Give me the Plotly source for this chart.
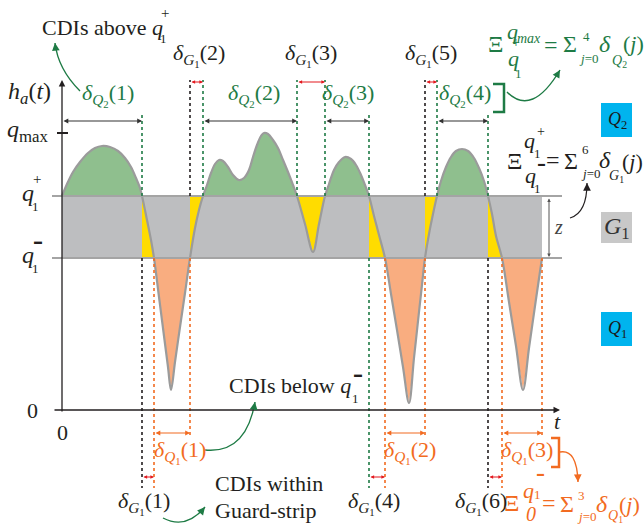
import numpy as np
import plotly.graph_objects as go

# Thresholds on the h_a(t) axis
Q_MINUS = 152
Q_PLUS = 214
Q_MAX = 277

# Sampled trajectory h_a(t)
t_curve = [0, 5, 11, 18, 26, 33, 40, 48, 56, 63, 69, 74, 78, 80,
           85, 89, 92, 97, 102, 106, 109, 113, 118, 123, 128, 133, 137, 141,
           145, 149, 153, 157, 161, 166, 171, 177, 182, 187, 191, 195, 199, 202, 206, 211, 216, 221, 226, 231, 235,
           243, 251, 257, 263,
           267, 272, 277, 283, 289, 294, 299, 303, 307,
           312, 317, 323, 329, 335, 341, 347, 352, 357, 360, 363, 367, 371, 375,
           379, 384, 389, 394, 400, 406, 412, 417, 422, 426,
           430, 434, 440, 447, 454, 461, 467, 474, 480]
h_curve = [214, 226, 238, 248, 257, 262, 264, 263, 259, 252, 243, 232, 222, 214,
           190, 170, 152, 113, 74, 43, 20, 48, 83, 117, 152, 182, 200, 214,
           225, 237, 246, 250, 249, 243, 235, 230, 232, 240, 253, 265, 274, 277, 276, 270, 262, 250, 238, 225, 214,
           186, 158, 186, 214,
           226, 240, 248, 253, 251, 245, 235, 225, 214,
           194, 175, 152, 116, 80, 43, 7, 52, 98, 125, 152, 176, 196, 214,
           229, 243, 253, 259, 261, 259, 252, 242, 229, 214,
           196, 174, 152, 108, 64, 20, 62, 111, 152]

# Time intervals (CDIs)
above_spans = [(0, 80), (141, 235), (263, 307), (375, 426)]
below_spans = [(92, 128), (323, 363), (440, 480)]
guard_top_spans = [(128, 141), (235, 263), (363, 375)]
guard_bottom_spans = [(80, 92), (307, 323), (426, 440)]
guard_spans = sorted(guard_top_spans + guard_bottom_spans)

above_labels = ["1", "2", "3", "4"]
below_labels = ["1", "2", "3"]
guard_top_labels = ["2", "3", "5"]
guard_bottom_labels = ["1", "4", "6"]

SERIF = "Liberation Serif, Times New Roman, serif"
BLACK = "#231f20"
GREEN = "#1e7b45"
ORANGE = "#f26b21"
RED = "#e3191f"
CYAN = "#00b4ee"
CURVE = "#9b9b9b"
FILL_GREEN = "#8fbf8e"
FILL_GRAY = "#bdbec0"
FILL_YELLOW = "#ffdc00"
FILL_ORANGE = "#f9ad80"
BAR = "▬"

t_arr = np.array(t_curve, dtype=float)
h_arr = np.array(h_curve, dtype=float)


def piece(a, b):
    m = (t_arr >= a) & (t_arr <= b)
    return list(t_arr[m]), list(h_arr[m])


fig = go.Figure()

# guard-strip fills between the curve and the crossing instant
for a, b in guard_spans:
    xs, ys = piece(a, b)
    xs = xs + [a]
    ys = ys + [ys[-1]]
    fig.add_trace(go.Scatter(x=xs, y=ys, mode="lines", fill="toself", fillcolor=FILL_YELLOW,
                             line=dict(width=0), hoverinfo="skip", showlegend=False))

for a, b in above_spans:
    xs, ys = piece(a, b)
    fig.add_trace(go.Scatter(x=xs, y=ys, mode="lines", fill="toself", fillcolor=FILL_GREEN,
                             line=dict(width=0, shape="spline"), hoverinfo="skip", showlegend=False))

for a, b in below_spans:
    xs, ys = piece(a, b)
    fig.add_trace(go.Scatter(x=xs, y=ys, mode="lines", fill="toself", fillcolor=FILL_ORANGE,
                             line=dict(width=0), hoverinfo="skip", showlegend=False))

fig.add_trace(go.Scatter(x=t_curve, y=h_curve, mode="lines",
                         line=dict(color=CURVE, width=2.2, shape="spline"),
                         hoverinfo="skip", showlegend=False))

shapes = []
annotations = []

# guard strip band
shapes.append(dict(type="rect", xref="x", yref="y", x0=0, x1=480, y0=Q_MINUS, y1=Q_PLUS,
                   fillcolor=FILL_GRAY, line=dict(width=0), layer="below"))
for q in (Q_PLUS, Q_MINUS):
    shapes.append(dict(type="line", xref="x", yref="y", x0=-10, x1=500, y0=q, y1=q,
                       line=dict(color="#a4a4a4", width=2)))
# q_max tick
shapes.append(dict(type="line", xref="x", yref="y", x0=-5, x1=6, y0=Q_MAX, y1=Q_MAX,
                   line=dict(color=BLACK, width=2)))


def vdot(t, y0, y1, color):
    shapes.append(dict(type="line", xref="x", yref="y", x0=t, x1=t, y0=y0, y1=y1,
                       line=dict(color=color, width=1.6, dash="dot")))


# dotted markers above q1+
for t, top, col in [(80, 295, GREEN), (128, 330, BLACK), (141, 330, GREEN), (235, 330, GREEN),
                    (263, 330, GREEN), (307, 295, GREEN), (363, 330, BLACK), (375, 330, GREEN),
                    (426, 295, GREEN)]:
    vdot(t, Q_PLUS, top, col)
# dotted markers below q1-
for t, bot, col in [(80, -78, BLACK), (92, -78, ORANGE), (128, -25, ORANGE), (307, -78, GREEN),
                    (323, -78, ORANGE), (363, -25, ORANGE), (426, -78, BLACK), (440, -78, ORANGE),
                    (480, -25, ORANGE)]:
    vdot(t, Q_MINUS, bot, col)


def dim_arrow(x0, x1, y, color, size=0.8, width=1.2):
    annotations.append(dict(x=x1, y=y, ax=x0, ay=y, xref="x", yref="y", axref="x", ayref="y",
                            text="", showarrow=True, arrowhead=2, startarrowhead=2,
                            arrowside="end+start", arrowsize=size, startarrowsize=size,
                            arrowwidth=width, arrowcolor=color))


for a, b in above_spans:
    dim_arrow(a, b, 289, "#333333")
for a, b in guard_top_spans:
    dim_arrow(a, b, 328, RED, size=0.6)
for a, b in below_spans:
    dim_arrow(a, b, -23, ORANGE)
for a, b in guard_bottom_spans:
    dim_arrow(a, b, -67, RED, size=0.6)

# z span
annotations.append(dict(x=487, y=Q_MINUS + 1, ax=487, ay=Q_PLUS - 1, xref="x", yref="y", axref="x",
                        ayref="y", text="", showarrow=True, arrowhead=2, startarrowhead=2,
                        arrowside="end+start", arrowsize=0.7, startarrowsize=0.7, arrowwidth=1,
                        arrowcolor="#555555"))

# axes
annotations.append(dict(x=0, y=330, ax=0, ay=-3, xref="x", yref="y", axref="x", ayref="y", text="",
                        showarrow=True, arrowhead=2, arrowsize=1, arrowwidth=1.3, arrowcolor=BLACK))
annotations.append(dict(x=498, y=0, ax=-9, ay=0, xref="x", yref="y", axref="x", ayref="y", text="",
                        showarrow=True, arrowhead=2, arrowsize=1, arrowwidth=1.3, arrowcolor=BLACK))


def curved(p0, c, p1, color, width=1.4):
    shapes.append(dict(type="path", xref="x", yref="y",
                       path=f"M {p0[0]},{p0[1]} Q {c[0]},{c[1]} {p1[0]},{p1[1]}",
                       line=dict(color=color, width=width)))
    dx, dy = p1[0] - c[0], p1[1] - c[1]
    n = (dx * dx + dy * dy) ** 0.5
    annotations.append(dict(x=p1[0], y=p1[1], ax=p1[0] - 4 * dx / n, ay=p1[1] - 4 * dy / n,
                            xref="x", yref="y", axref="x", ayref="y", text="", showarrow=True,
                            arrowhead=2, arrowsize=1.1, arrowwidth=1.4, arrowcolor=color))


curved((18, 319), (-4, 341), (-7, 367), GREEN)
curved((445, 318), (470, 293), (498, 340), GREEN)
curved((508, 192), (525, 197), (525, 227), BLACK, 1.2)
curved((143, -40), (184, -44), (193, 8), GREEN)
curved((101, -108), (124, -120), (143, -97), GREEN)
curved((498, -42), (515, -39), (516, -72), ORANGE)

# brackets
shapes.append(dict(type="path", xref="x", yref="y", path="M 431,326 L 442,326 L 442,298 L 431,298",
                   line=dict(color=GREEN, width=2.5)))
shapes.append(dict(type="path", xref="x", yref="y", path="M 489,-28 L 497,-28 L 497,-57 L 489,-57",
                   line=dict(color=ORANGE, width=2.5)))

# level boxes
for y0, y1, col in [(273, 307, CYAN), (167, 198, "#c8c8c8"), (64, 98, CYAN)]:
    shapes.append(dict(type="rect", xref="x", yref="y", x0=539, x1=570, y0=y0, y1=y1,
                       fillcolor=col, line=dict(width=0)))


def label(x, y, text, size=22, color=BLACK, xanchor="center", yanchor="middle"):
    annotations.append(dict(x=x, y=y, xref="x", yref="y", text=text, showarrow=False,
                            font=dict(family=SERIF, size=size, color=color),
                            xanchor=xanchor, yanchor=yanchor))


label(555, 290, "<i>Q</i><sub>2</sub>", 18, "#1a1a1a")
label(555, 182, "<i>G</i><sub>1</sub>", 24, "#333333")
label(555, 81, "<i>Q</i><sub>1</sub>", 18, "#1a1a1a")

# axis labels
label(-33, 317, "<i>h<sub>a</sub></i>(<i>t</i>)", 24)
label(-11, 279, "<i>q</i><sub>max</sub>", 24, xanchor="right")
label(-34, 217, "<i>q</i>", 24)
label(-25, 231, "+", 15)
label(-27, 204, "1", 13)
label(-34, 155, "<i>q</i>", 24)
label(-24, 169, BAR, 8)
label(-27, 142, "1", 13)
label(-30, 0, "0", 22)
label(0, -22, "0", 22)
label(495, -11, "<i>t</i>", 22)
label(496, 183, "<i>z</i>", 20, "#444444")

# captions
label(-22, 383, "CDIs above <i>q</i>", 22, xanchor="left")
label(103, 397, "+", 15)
label(101, 372, "1", 13)
label(165, 25, "CDIs below <i>q</i>", 22, xanchor="left")
label(296, 36, BAR, 8)
label(293, 12, "1", 13)
label(151, -73, "CDIs within", 22, xanchor="left")
label(151, -100, "Guard-strip", 22, xanchor="left")

# interval labels
for x, k in zip([46, 192, 286, 403], above_labels):
    label(x, 315, f"<i>δ</i><sub><i>Q</i><sub>2</sub></sub>({k})", 22, GREEN)
for x, k in zip([118, 348, 465], below_labels):
    label(x, -42, f"<i>δ</i><sub><i>Q</i><sub>1</sub></sub>({k})", 22, ORANGE)
for x, k in zip([137, 249, 369], guard_top_labels):
    label(x, 355, f"<i>δ</i><sub><i>G</i><sub>1</sub></sub>({k})", 22)
for x, k in zip([82, 312, 419], guard_bottom_labels):
    label(x, -93, f"<i>δ</i><sub><i>G</i><sub>1</sub></sub>({k})", 22)

# Ξ relations
label(433, 366, "Ξ", 24, GREEN)
label(450, 379, "<i>q</i>", 22, GREEN)
label(467, 372, "<i>max</i>", 14, GREEN)
label(451, 352, "<i>q</i>", 22, GREEN)
label(454, 368, "+", 14, GREEN)
label(456, 337, "1", 13, GREEN)
label(489, 365, "=", 24, GREEN)
label(508, 366, "Σ", 24, GREEN)
label(524, 374, "4", 13, GREEN)
label(526, 352, "<i>j</i>=0", 13, GREEN)
label(543, 366, "<i>δ</i>", 24, GREEN)
label(557, 349, "<i>Q</i><sub>2</sub>", 14, GREEN)
label(571, 367, "(<i>j</i>)", 22, GREEN)

label(452, 249, "Ξ", 24)
label(467, 270, "<i>q</i>", 22)
label(479, 279, "+", 14)
label(475, 257, "1", 13)
label(468, 235, "<i>q</i>", 22)
label(479, 246, BAR, 7)
label(475, 222, "1", 13)
label(491, 250, "=", 24)
label(509, 249, "Σ", 24)
label(523, 261, "6", 13)
label(528, 237, "<i>j</i>=0", 13)
label(543, 250, "<i>δ</i>", 24)
label(554, 234, "<i>G</i><sub>1</sub>", 14)
label(570, 249, "(<i>j</i>)", 22)

label(449, -93, "Ξ", 24, ORANGE)
label(466, -80, "<i>q</i>", 22, ORANGE)
label(478, -64, BAR, 7, ORANGE)
label(475, -84, "1", 13, ORANGE)
label(469, -104, "<i>0</i>", 20, ORANGE)
label(487, -93, "=", 24, ORANGE)
label(505, -94, "Σ", 24, ORANGE)
label(519, -85, "3", 13, ORANGE)
label(524, -106, "<i>j</i>=0", 13, ORANGE)
label(540, -94, "<i>δ</i>", 24, ORANGE)
label(553, -106, "<i>Q</i><sub>1</sub>", 14, ORANGE)
label(567, -94, "(<i>j</i>)", 22, ORANGE)

fig.update_layout(
    width=644, height=527, autosize=False,
    margin=dict(l=0, r=0, t=0, b=0, pad=0),
    paper_bgcolor="white", plot_bgcolor="white",
    font=dict(family=SERIF),
    xaxis=dict(range=[-62, 582], visible=False, fixedrange=True),
    yaxis=dict(range=[-117, 410], visible=False, fixedrange=True),
    shapes=shapes, annotations=annotations, showlegend=False,
)

fig.write_html("out.html")
